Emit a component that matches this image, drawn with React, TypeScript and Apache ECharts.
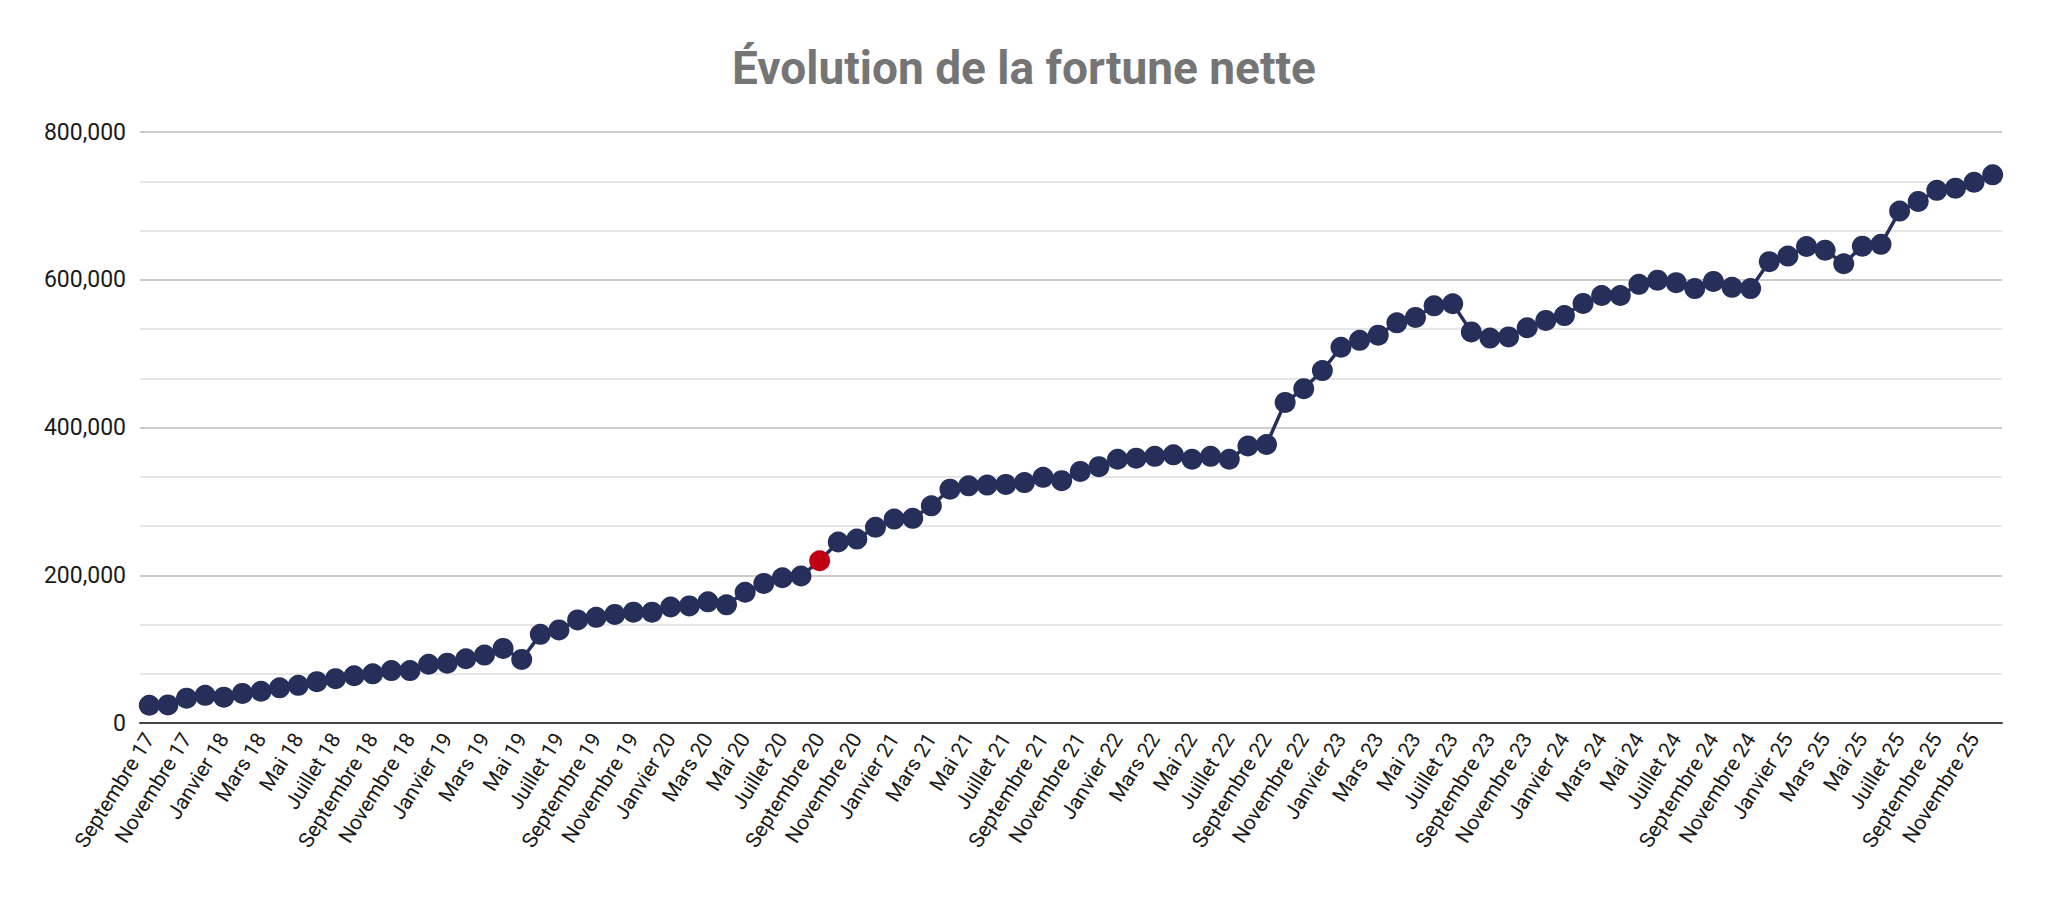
import React, { useEffect, useRef } from "react";
import * as echarts from "echarts";

const TITLE = "Évolution de la fortune nette";

const CATEGORIES = [
  "Septembre 17", "Octobre 17", "Novembre 17", "Décembre 17",
  "Janvier 18", "Février 18", "Mars 18", "Avril 18", "Mai 18", "Juin 18", "Juillet 18", "Août 18", "Septembre 18", "Octobre 18", "Novembre 18", "Décembre 18",
  "Janvier 19", "Février 19", "Mars 19", "Avril 19", "Mai 19", "Juin 19", "Juillet 19", "Août 19", "Septembre 19", "Octobre 19", "Novembre 19", "Décembre 19",
  "Janvier 20", "Février 20", "Mars 20", "Avril 20", "Mai 20", "Juin 20", "Juillet 20", "Août 20", "Septembre 20", "Octobre 20", "Novembre 20", "Décembre 20",
  "Janvier 21", "Février 21", "Mars 21", "Avril 21", "Mai 21", "Juin 21", "Juillet 21", "Août 21", "Septembre 21", "Octobre 21", "Novembre 21", "Décembre 21",
  "Janvier 22", "Février 22", "Mars 22", "Avril 22", "Mai 22", "Juin 22", "Juillet 22", "Août 22", "Septembre 22", "Octobre 22", "Novembre 22", "Décembre 22",
  "Janvier 23", "Février 23", "Mars 23", "Avril 23", "Mai 23", "Juin 23", "Juillet 23", "Août 23", "Septembre 23", "Octobre 23", "Novembre 23", "Décembre 23",
  "Janvier 24", "Février 24", "Mars 24", "Avril 24", "Mai 24", "Juin 24", "Juillet 24", "Août 24", "Septembre 24", "Octobre 24", "Novembre 24", "Décembre 24",
  "Janvier 25", "Février 25", "Mars 25", "Avril 25", "Mai 25", "Juin 25", "Juillet 25", "Août 25", "Septembre 25", "Octobre 25", "Novembre 25", "Décembre 25",
];

const NET_WORTH = [
  24000, 24500, 33600, 37500,
  35000, 40000, 43000, 47600, 51000, 56000, 60000, 64000, 66600, 71000, 71000, 79500,
  81000, 87000, 92000, 101000, 86000, 120000, 126000, 139500, 143000, 147000, 150000, 150000,
  157000, 158500, 164000, 160000, 177000, 189000, 196600, 199000, 219600, 245000, 249000, 265000,
  276000, 277000, 294000, 316500, 321000, 322000, 323000, 325500, 332500, 328000, 340500, 347000,
  357000, 358500, 361000, 363000, 357000, 361000, 357000, 375000, 377000, 434000, 452600, 477000,
  508600, 518000, 525000, 541700, 549000, 564700, 567500, 529400, 521000, 522600, 535000, 545000,
  551500, 568000, 578700, 578700, 593800, 599400, 596000, 588000, 597700, 589800, 588000, 624500,
  632000, 645000, 640000, 621700, 645500, 648000, 693000, 706000, 721000, 724000, 732000, 742000,
];

const HIGHLIGHT_INDEX = 36;

const Y_MIN = 0;
const Y_MAX = 800000;
const Y_INTERVAL = 200000;

const NAVY = "#262F59";
const RED = "#C00012";

export default function App() {
  const ref = useRef<HTMLDivElement>(null);

  useEffect(() => {
    if (!ref.current) return;
    const chart = echarts.init(ref.current, null, { renderer: "svg" });
    const seriesData = NET_WORTH.map((v, i) =>
      i === HIGHLIGHT_INDEX ? { value: v, itemStyle: { color: RED } } : v
    );
    chart.setOption({
      animation: false,
      backgroundColor: "#ffffff",
      textStyle: { fontFamily: "Roboto" },
      title: {
        text: TITLE,
        left: "center",
        top: 40,
        textStyle: {
          fontFamily: "Roboto",
          fontSize: 46,
          fontWeight: "bold",
          color: "#757575",
        },
      },
      grid: { left: 140, right: 46, top: 132, bottom: 187, containLabel: false },
      xAxis: {
        type: "category",
        data: CATEGORIES,
        boundaryGap: true,
        axisLine: { show: true, lineStyle: { color: "#444444", width: 2 } },
        axisTick: { show: false },
        axisLabel: {
          interval: 1,
          rotate: 58,
          margin: 12,
          fontFamily: "Roboto",
          fontSize: 21,
          color: "#1a1a1a",
        },
        splitLine: { show: false },
      },
      yAxis: {
        type: "value",
        min: Y_MIN,
        max: Y_MAX,
        interval: Y_INTERVAL,
        axisLine: { show: false },
        axisTick: { show: false },
        axisLabel: {
          margin: 14,
          fontFamily: "Roboto",
          fontSize: 23,
          color: "#1a1a1a",
          formatter: (v: number) => v.toLocaleString("en-US"),
        },
        splitLine: { show: true, lineStyle: { color: "#cccccc", width: 2 } },
        minorTick: { show: false, splitNumber: 3 },
        minorSplitLine: { show: true, lineStyle: { color: "#e6e6e6", width: 2 } },
      },
      series: [
        {
          type: "line",
          data: seriesData,
          symbol: "circle",
          symbolSize: 21,
          showSymbol: true,
          showAllSymbol: true,
          lineStyle: { color: NAVY, width: 3.5 },
          itemStyle: { color: NAVY },
          z: 3,
        },
      ],
    });
    return () => chart.dispose();
  }, []);

  return (
    <div
      ref={ref}
      style={{ position: "fixed", left: 0, top: 0, width: 2048, height: 910 }}
    />
  );
}
